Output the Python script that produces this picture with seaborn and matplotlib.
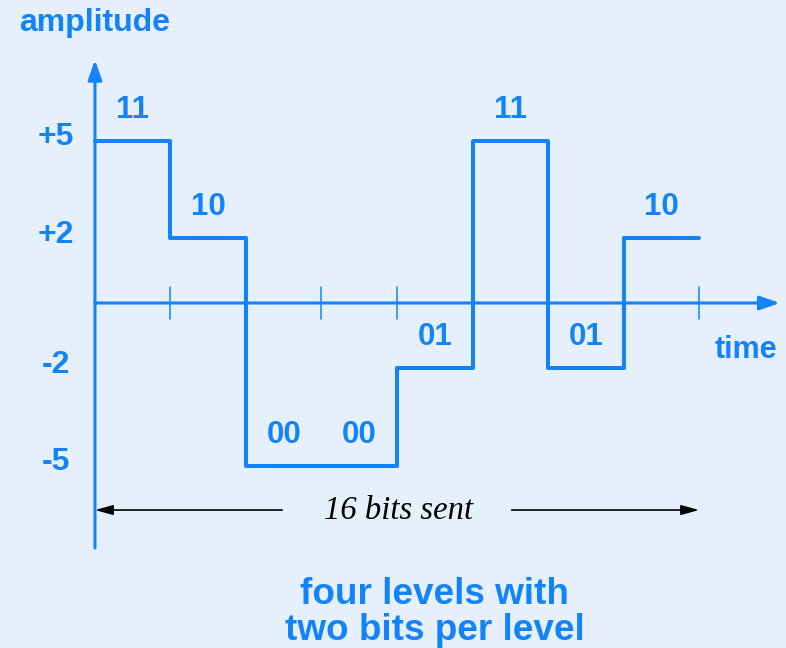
import matplotlib
matplotlib.use("Agg")
import matplotlib.pyplot as plt
import seaborn as sns
import pandas as pd

# Data: one level per bit pair
slots = [0, 1, 2, 3, 4, 5, 6, 7, 8]
levels = [5, 2, -5, -5, -2, 5, -2, 2, 2]   # last value repeats to close the step
bit_labels = ["11", "10", "00", "00", "01", "11", "01", "10"]
level_ticks = [5, 2, -2, -5]
level_tick_labels = ["+5", "+2", "-2", "-5"]

blue = "#1283fa"
bg = "#e6f0fc"

sns.set_theme(style="white")
plt.rcParams["font.family"] = ["Liberation Sans", "DejaVu Sans"]

fig = plt.figure(figsize=(7.86, 6.48), dpi=100, facecolor=bg)
ax = fig.add_axes([0, 0, 1, 1])
ax.set_facecolor(bg)
ax.set_xlim(-1.258, 9.152)
ax.set_ylim(-10.615, 9.323)
ax.axis("off")

df = pd.DataFrame({"slot": slots, "level": levels})
sns.lineplot(data=df, x="slot", y="level", drawstyle="steps-post", estimator=None,
             sort=False, color=blue, linewidth=2.9, ax=ax, zorder=3)

# axes with arrows
ax.annotate("", xy=(0, 7.48), xytext=(0, -7.54),
            arrowprops=dict(arrowstyle="-|>,head_length=1.0,head_width=0.35",
                            color=blue, lw=2.2, shrinkA=0, shrinkB=0))
ax.annotate("", xy=(9.07, 0), xytext=(0, 0),
            arrowprops=dict(arrowstyle="-|>,head_length=1.0,head_width=0.35",
                            color=blue, lw=2.2, shrinkA=0, shrinkB=0))
for t in slots[1:]:
    ax.plot([t, t], [-0.5, 0.5], color=blue, lw=1.1)

# bit labels above each level
for i, lab in enumerate(bit_labels):
    ax.text(i + 0.5, levels[i] + 0.95, lab, color=blue, fontsize=22.5, fontweight="bold",
            ha="center", va="center")

for v, lab in zip(level_ticks, level_tick_labels):
    ax.text(-0.52, v + 0.1, lab, color=blue, fontsize=23, fontweight="bold",
            ha="center", va="center")

ax.text(0, 8.6, "amplitude", color=blue, fontsize=23, fontweight="bold",
        ha="center", va="center")
ax.text(8.62, -1.45, "time", color=blue, fontsize=22, fontweight="bold",
        ha="center", va="center")

# 16 bits sent
ax.text(4.02, -6.4, "16 bits sent", fontsize=23.5, style="italic", color="black",
        family=["Liberation Serif", "DejaVu Serif"], ha="center", va="center")
ax.annotate("", xy=(0, -6.37), xytext=(2.48, -6.37),
            arrowprops=dict(arrowstyle="-|>,head_length=0.9,head_width=0.25",
                            color="black", lw=1.2, shrinkA=0, shrinkB=0))
ax.annotate("", xy=(8, -6.37), xytext=(5.52, -6.37),
            arrowprops=dict(arrowstyle="-|>,head_length=0.9,head_width=0.25",
                            color="black", lw=1.2, shrinkA=0, shrinkB=0))

ax.text(4.5, -8.97, "four levels with", color=blue, fontsize=26.6, fontweight="bold",
        ha="center", va="center")
ax.text(4.5, -10.08, "two bits per level", color=blue, fontsize=26.6, fontweight="bold",
        ha="center", va="center")

fig.savefig("out.png", dpi=100, facecolor=bg)
